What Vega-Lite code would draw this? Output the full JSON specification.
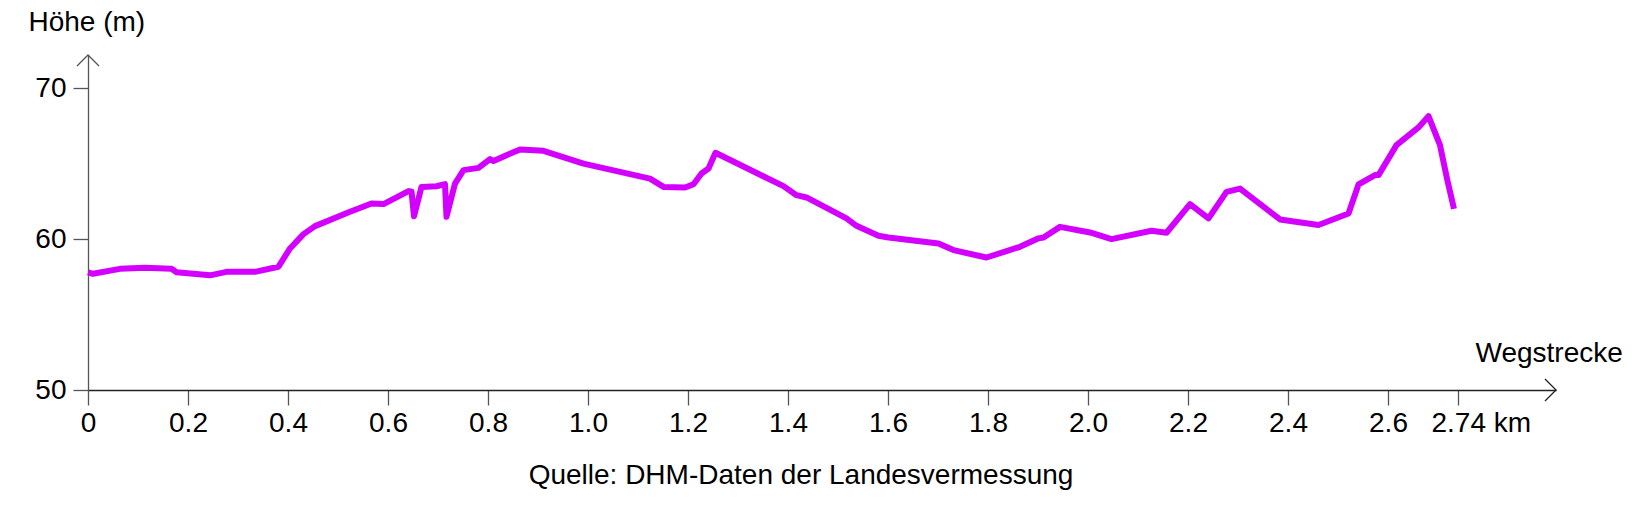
{
  "$schema": "https://vega.github.io/schema/vega-lite/v6.json",
  "width": 1468,
  "height": 335,
  "autosize": {"type": "none"},
  "padding": {"left": 88, "top": 55, "right": 84, "bottom": 116},
  "background": "white",
  "config": {
    "view": {"stroke": null},
    "font": "Liberation Sans",
    "title": {"font": "Liberation Sans", "fontSize": 28, "fontWeight": "normal", "color": "black"}
  },
  "title": {"text": "Quelle: DHM-Daten der Landesvermessung", "orient": "bottom", "anchor": "middle", "dx": -21, "offset": 25},
  "datasets": {
    "profile": [
      {"km": 0, "h": 57.8}, {"km": 0.01, "h": 57.7}, {"km": 0.064, "h": 58.03}, {"km": 0.114, "h": 58.1},
      {"km": 0.167, "h": 58.03}, {"km": 0.177, "h": 57.8}, {"km": 0.244, "h": 57.6}, {"km": 0.277, "h": 57.83},
      {"km": 0.334, "h": 57.83}, {"km": 0.381, "h": 58.17}, {"km": 0.404, "h": 59.38}, {"km": 0.431, "h": 60.33},
      {"km": 0.454, "h": 60.86}, {"km": 0.524, "h": 61.81}, {"km": 0.567, "h": 62.36}, {"km": 0.591, "h": 62.32},
      {"km": 0.641, "h": 63.18}, {"km": 0.647, "h": 63.16}, {"km": 0.652, "h": 61.52}, {"km": 0.667, "h": 63.46},
      {"km": 0.697, "h": 63.5}, {"km": 0.714, "h": 63.64}, {"km": 0.717, "h": 61.48}, {"km": 0.734, "h": 63.68},
      {"km": 0.751, "h": 64.57}, {"km": 0.781, "h": 64.72}, {"km": 0.804, "h": 65.3}, {"km": 0.811, "h": 65.17},
      {"km": 0.837, "h": 65.56}, {"km": 0.864, "h": 65.94}, {"km": 0.911, "h": 65.85}, {"km": 0.991, "h": 65.0},
      {"km": 1.124, "h": 64.01}, {"km": 1.151, "h": 63.46}, {"km": 1.194, "h": 63.42}, {"km": 1.211, "h": 63.64},
      {"km": 1.227, "h": 64.35}, {"km": 1.241, "h": 64.68}, {"km": 1.255, "h": 65.72}, {"km": 1.391, "h": 63.51},
      {"km": 1.417, "h": 62.91}, {"km": 1.437, "h": 62.76}, {"km": 1.517, "h": 61.37}, {"km": 1.537, "h": 60.88},
      {"km": 1.581, "h": 60.22}, {"km": 1.601, "h": 60.11}, {"km": 1.701, "h": 59.71}, {"km": 1.731, "h": 59.27},
      {"km": 1.797, "h": 58.78}, {"km": 1.864, "h": 59.49}, {"km": 1.901, "h": 60.05}, {"km": 1.911, "h": 60.11},
      {"km": 1.944, "h": 60.81}, {"km": 2.004, "h": 60.44}, {"km": 2.047, "h": 60.0}, {"km": 2.127, "h": 60.55},
      {"km": 2.157, "h": 60.42}, {"km": 2.204, "h": 62.32}, {"km": 2.241, "h": 61.37}, {"km": 2.277, "h": 63.13},
      {"km": 2.304, "h": 63.35}, {"km": 2.384, "h": 61.3}, {"km": 2.461, "h": 60.93}, {"km": 2.521, "h": 61.7},
      {"km": 2.541, "h": 63.62}, {"km": 2.574, "h": 64.24}, {"km": 2.581, "h": 64.24}, {"km": 2.617, "h": 66.23},
      {"km": 2.661, "h": 67.4}, {"km": 2.681, "h": 68.15}, {"km": 2.704, "h": 66.23}, {"km": 2.718, "h": 64.01},
      {"km": 2.732, "h": 62.0}
    ],
    "arrows": [
      {"km": 2.936, "h": 50, "dir": "x"},
      {"km": 0, "h": 72.2, "dir": "y"}
    ]
  },
  "layer": [
    {
      "data": {"name": "profile"},
      "mark": {"type": "line", "color": "#d400ff", "strokeWidth": 6, "strokeCap": "butt", "strokeJoin": "round"},
      "encoding": {
        "x": {
          "field": "km", "type": "quantitative",
          "scale": {"domain": [0, 2.936], "nice": false, "zero": false},
          "axis": {
            "values": [0, 0.2, 0.4, 0.6, 0.8, 1.0, 1.2, 1.4, 1.6, 1.8, 2.0, 2.2, 2.4, 2.6, 2.74],
            "labelExpr": "datum.value == 0 ? '0' : (datum.value > 2.7 ? '2.74 km' : format(datum.value, '.1f'))",
            "labelAlign": {"condition": {"test": "datum.value > 2.7", "value": "left"}, "value": "center"},
            "labelOffset": {"condition": {"test": "datum.value > 2.7", "value": -27}, "value": 0},
            "labelFont": "Liberation Sans", "labelFontSize": 28, "labelColor": "black",
            "labelPadding": 4, "labelFlush": false, "labelOverlap": false, "labelBound": false,
            "tickSize": 15, "tickColor": "#555", "tickWidth": 1.3,
            "domainColor": "#222", "domainWidth": 1.3,
            "grid": false,
            "title": "Wegstrecke", "titleFont": "Liberation Sans", "titleFontSize": 28, "titleFontWeight": "normal",
            "titleColor": "black", "titleAlign": "left", "titleBaseline": "middle", "titleAnchor": "start",
            "titleX": 1387, "titleY": -37
          }
        },
        "y": {
          "field": "h", "type": "quantitative",
          "scale": {"domain": [50, 72.2], "nice": false, "zero": false},
          "axis": {
            "values": [50, 60, 70],
            "labelFont": "Liberation Sans", "labelFontSize": 28, "labelColor": "black",
            "labelPadding": 7, "labelFlush": false, "labelOverlap": false,
            "tickSize": 15, "tickColor": "#555", "tickWidth": 1.3,
            "domainColor": "#555", "domainWidth": 1.3,
            "grid": false,
            "title": "Höhe (m)", "titleFont": "Liberation Sans", "titleFontSize": 28, "titleFontWeight": "normal",
            "titleColor": "black", "titleAngle": 0, "titleAlign": "left", "titleBaseline": "middle",
            "titleAnchor": "start", "titleX": -60, "titleY": -33
          }
        }
      }
    },
    {
      "data": {"name": "arrows"},
      "transform": [{"filter": "datum.dir == 'x'"}],
      "mark": {"type": "point", "shape": "M-1,-1L0,0L-1,1", "filled": false, "stroke": "#222", "strokeWidth": 1.3, "size": 484, "opacity": 1},
      "encoding": {
        "x": {"field": "km", "type": "quantitative"},
        "y": {"field": "h", "type": "quantitative"}
      }
    },
    {
      "data": {"name": "arrows"},
      "transform": [{"filter": "datum.dir == 'y'"}],
      "mark": {"type": "point", "shape": "M-1,1L0,0L1,1", "filled": false, "stroke": "#555", "strokeWidth": 1.3, "size": 484, "opacity": 1},
      "encoding": {
        "x": {"field": "km", "type": "quantitative"},
        "y": {"field": "h", "type": "quantitative"}
      }
    }
  ]
}
